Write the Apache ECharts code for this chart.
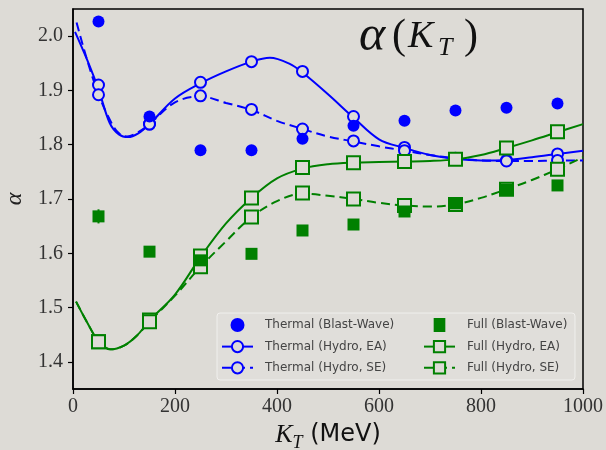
<!DOCTYPE html>
<html>
<head>
<meta charset="utf-8">
<script src="https://cdn.jsdelivr.net/npm/echarts@6/dist/echarts.min.js"></script>
<style>
html,body{margin:0;padding:0;background:#dddbd6;}
#chart{width:606px;height:450px;}
</style>
</head>
<body>
<div id="chart"></div>
<script>
// ---- data ----
const kt = [50, 150, 250, 350, 450, 550, 650, 750, 850, 950];
const thermalBW    = [2.027, 1.852, 1.790, 1.790, 1.811, 1.835, 1.844, 1.863, 1.868, 1.876];
const thermalBWErr = [0.005, 0.005, 0.005, 0.005, 0.005, 0.005, 0.005, 0.005, 0.005, 0.005];
const fullBW       = [1.668, 1.603, 1.587, 1.599, 1.642, 1.653, 1.677, 1.692, 1.717, 1.725];
const fullBWErr    = [0.013, 0.005, 0.005, 0.005, 0.005, 0.005, 0.005, 0.005, 0.005, 0.005];
const thermalEA = [1.910, 1.838, 1.915, 1.953, 1.935, 1.852, 1.795, 1.774, 1.771, 1.783];
const thermalSE = [1.892, 1.838, 1.890, 1.865, 1.829, 1.807, 1.789, 1.775, 1.770, 1.771];
const fullEA    = [1.437, 1.477, 1.595, 1.702, 1.758, 1.767, 1.769, 1.773, 1.794, 1.824];
const fullSE    = [1.437, 1.474, 1.575, 1.667, 1.711, 1.700, 1.688, 1.690, 1.718, 1.755];
// fitted curves
const thermalEACurve = [[4,2.008],[27,1.958],[50,1.902],[72,1.840],[90,1.819],[108,1.814],[128,1.821],[150,1.838],
  [200,1.885],[250,1.913],[300,1.935],[350,1.953],[386,1.960],[425,1.949],[450,1.933],[500,1.893],[550,1.850],
  [600,1.810],[650,1.794],[700,1.781],[750,1.774],[800,1.771],[850,1.772],[900,1.777],[950,1.783],[1000,1.789]];
const thermalSECurve = [[7,2.025],[28,1.955],[50,1.893],[70,1.850],[88,1.823],[106,1.815],[128,1.823],[150,1.838],
  [200,1.878],[250,1.889],[300,1.877],[350,1.864],[400,1.844],[450,1.829],[500,1.815],[550,1.806],
  [600,1.797],[650,1.789],[700,1.781],[750,1.775],[800,1.771],[850,1.770],[900,1.770],[950,1.771],[1000,1.771]];
const fullEACurve = [[6,1.511],[27,1.474],[50,1.438],[73,1.423],[100,1.430],[125,1.448],[150,1.476],[200,1.524],
  [250,1.593],[300,1.655],[350,1.702],[400,1.738],[450,1.756],[500,1.764],[550,1.767],[600,1.768],[650,1.769],
  [700,1.770],[750,1.773],[800,1.781],[850,1.794],[900,1.808],[950,1.823],[1000,1.838]];
const fullSECurve = [[6,1.511],[27,1.474],[50,1.438],[73,1.423],[100,1.430],[125,1.448],[150,1.474],[200,1.522],
  [250,1.575],[300,1.622],[350,1.667],[400,1.696],[450,1.710],[500,1.706],[550,1.700],[600,1.693],[650,1.688],
  [700,1.686],[750,1.690],[800,1.702],[850,1.718],[900,1.735],[950,1.755],[1000,1.777]];
const xTicks = [0, 200, 400, 600, 800, 1000];
const yTicks = [1.4, 1.5, 1.6, 1.7, 1.8, 1.9, 2.0];
const names = ['Thermal (Blast-Wave)','Thermal (Hydro, EA)','Thermal (Hydro, SE)',
               'Full (Blast-Wave)','Full (Hydro, EA)','Full (Hydro, SE)'];

const BLUE = '#0000ff', GREEN = '#008000', BG = '#dddbd6';

function errSeries(vals, errs, color) {
  return {
    type: 'custom', silent: true, z: 5,
    data: kt.map((x, i) => [x, vals[i], errs[i]]),
    renderItem: function (params, api) {
      const x = api.value(0), y = api.value(1), e = api.value(2);
      const p1 = api.coord([x, y - e]), p2 = api.coord([x, y + e]);
      return { type: 'line', shape: { x1: p1[0], y1: p1[1], x2: p2[0], y2: p2[1] },
               style: { stroke: color, lineWidth: 2 } };
    }
  };
}
// curve line (legend entry shows line + marker)
function curve(name, pts, color, dashed, sym) {
  return {
    type: 'line', name: name, data: pts.map(p => ({ value: p, symbol: 'none' })),
    smooth: 0.35, symbol: sym, symbolSize: sym === 'rect' ? 13 : 11,
    lineStyle: { color: color, width: 2, type: dashed ? [9, 5] : 'solid' },
    itemStyle: { color: BG, borderColor: color, borderWidth: 2 },
    z: 3
  };
}
// open markers at the computed points
function markers(vals, color, sym) {
  return {
    type: 'scatter', silent: true, data: kt.map((x, i) => [x, vals[i]]),
    symbol: sym, symbolSize: sym === 'rect' ? 13 : 11,
    itemStyle: { color: BG, borderColor: color, borderWidth: 2, opacity: 1 },
    z: 4
  };
}

const chart = echarts.init(document.getElementById('chart'), null, { renderer: 'canvas' });
const serif = 'Liberation Serif';
const legendText = { fontFamily: 'DejaVu Sans', fontSize: 12, color: '#444', padding: [0, 0, 0, 7] };
chart.setOption({
  animation: false,
  backgroundColor: BG,
  grid: { left: 73, right: 23, top: 9, bottom: 61, outerBoundsMode: 'none', containLabel: false,
          show: true, borderColor: '#000', borderWidth: 1.5, backgroundColor: 'transparent' },
  xAxis: {
    type: 'value', min: xTicks[0], max: xTicks[xTicks.length - 1], interval: 200,
    axisLine: { lineStyle: { color: '#000', width: 1.5 } },
    axisTick: { length: 5, lineStyle: { color: '#000', width: 1.2 } },
    axisLabel: { fontFamily: serif, fontSize: 20, color: '#333', margin: 8, formatter: v => String(v) },
    splitLine: { show: false },
    name: '{k|K}{t|T}{m| (MeV)}', nameLocation: 'middle', nameGap: 29,
    nameTextStyle: { rich: {
      k: { fontFamily: serif, fontStyle: 'italic', fontSize: 26, color: '#111' },
      t: { fontFamily: serif, fontStyle: 'italic', fontSize: 18, color: '#111', padding: [16, 0, 0, 0] },
      m: { fontFamily: 'DejaVu Sans', fontSize: 24, color: '#111' }
    } }
  },
  yAxis: {
    type: 'value', min: 1.35, max: 2.05,
    axisLine: { show: true, lineStyle: { color: '#000', width: 1.5 } },
    axisTick: { show: true, length: 5, customValues: yTicks, lineStyle: { color: '#000', width: 1.2 } },
    axisLabel: { customValues: yTicks, formatter: v => v.toFixed(1), fontFamily: serif, fontSize: 20, color: '#333', margin: 10 },
    splitLine: { show: false },
    name: 'α', nameLocation: 'middle', nameRotate: 90, nameGap: 46,
    nameTextStyle: { fontFamily: serif, fontStyle: 'italic', fontSize: 24, color: '#222' }
  },
  legend: [
    { data: [{ name: names[0], icon: 'circle' }, names[1], names[2]], orient: 'vertical', left: 221, top: 318, padding: 0,
      itemWidth: 31, itemHeight: 14, itemGap: 8, selectedMode: false, textStyle: legendText },
    { data: [{ name: names[3], icon: 'path://M0,0h10v12h-10z' }, names[4], names[5]], orient: 'vertical', left: 423, top: 318, padding: 0,
      itemWidth: 31, itemHeight: 14, itemGap: 8, selectedMode: false, textStyle: legendText }
  ],
  graphic: [
    { type: 'rect', z: 0, shape: { x: 217, y: 313, width: 358, height: 67, r: 3 },
      style: { fill: 'rgba(255,255,255,0.10)', stroke: 'rgba(255,255,255,0.55)', lineWidth: 1 } },
    { type: 'text', left: 359, top: 12, z: 10,
      style: { text: '{a|α}{p|(}{k|K}{t|T}{p|)}', rich: {
        a: { fontFamily: serif, fontStyle: 'italic', fontSize: 50, width: 33, fill: '#111' },
        p: { fontFamily: serif, fontSize: 42, width: 16, fill: '#111' },
        k: { fontFamily: serif, fontStyle: 'italic', fontSize: 38, width: 30, fill: '#111' },
        t: { fontFamily: serif, fontStyle: 'italic', fontSize: 26, width: 26, fill: '#111', padding: [22, 0, 0, 0] }
      } } }
  ],
  series: [
    { type: 'scatter', name: names[0], data: kt.map((x, i) => [x, thermalBW[i]]),
      symbol: 'circle', symbolSize: 12, itemStyle: { color: BLUE, opacity: 1 }, z: 6 },
    errSeries(thermalBW, thermalBWErr, BLUE),
    curve(names[1], thermalEACurve, BLUE, false, 'circle'),
    markers(thermalEA, BLUE, 'circle'),
    curve(names[2], thermalSECurve, BLUE, true, 'circle'),
    markers(thermalSE, BLUE, 'circle'),
    { type: 'scatter', name: names[3], data: kt.map((x, i) => [x, fullBW[i]]),
      symbol: 'rect', symbolSize: 12, itemStyle: { color: GREEN, opacity: 1 }, z: 6 },
    errSeries(fullBW, fullBWErr, GREEN),
    curve(names[4], fullEACurve, GREEN, false, 'rect'),
    markers(fullEA, GREEN, 'rect'),
    curve(names[5], fullSECurve, GREEN, true, 'rect'),
    markers(fullSE, GREEN, 'rect')
  ]
});
</script>
</body>
</html>
